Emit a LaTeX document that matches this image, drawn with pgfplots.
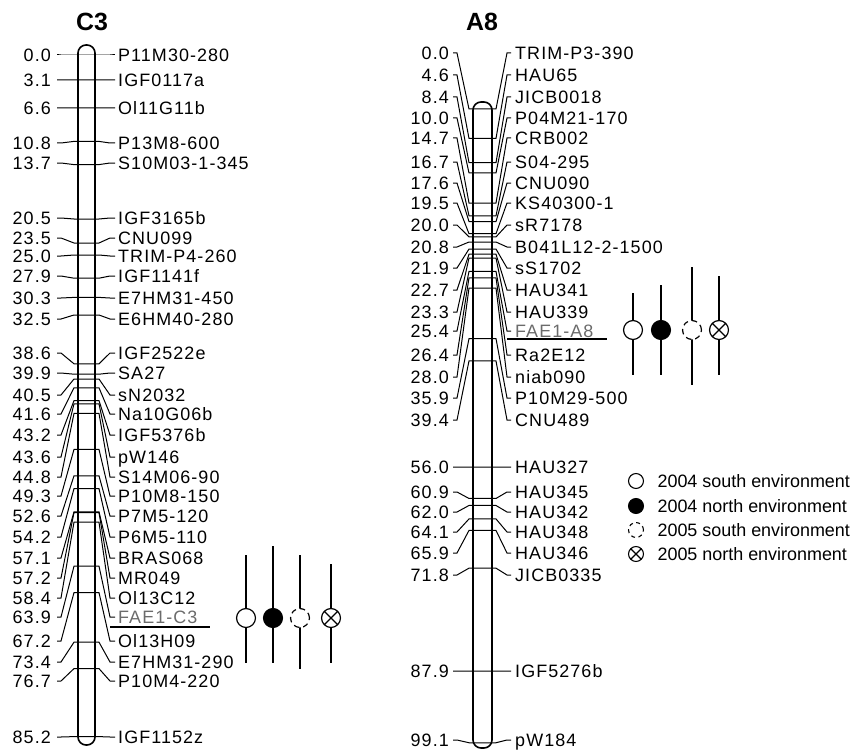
\documentclass[border=0pt]{standalone}
\usepackage{fontspec}
\setmainfont{Liberation Sans}
\newfontfamily\lblfam{Liberation Sans}[LetterSpace=6]
\usepackage{pgfplots}
\usepackage{pgfplotstable}
\pgfplotsset{compat=1.18}
\usetikzlibrary{plotmarks}
\definecolor{faegray}{gray}{0.42}
\newcommand\lblfont{\lblfam\fontsize{18}{18}\selectfont}
\newcommand\legfont{\fontsize{18}{18}\selectfont}

% C3: position (cM), label row (px from top), marker name
\pgfplotstableread{
cm ly name
0.0 55 P11M30-280
3.1 80 IGF0117a
6.6 108 Ol11G11b
10.8 143 P13M8-600
13.7 163 S10M03-1-345
20.5 218 IGF3165b
23.5 238 CNU099
25.0 256 TRIM-P4-260
27.9 276 IGF1141f
30.3 298 E7HM31-450
32.5 319 E6HM40-280
38.6 353 IGF2522e
39.9 373 SA27
40.5 395 sN2032
41.6 414 Na10G06b
43.2 435 IGF5376b
43.6 457 pW146
44.8 477 S14M06-90
49.3 496 P10M8-150
52.6 516 P7M5-120
54.2 537 P6M5-110
57.1 558 BRAS068
57.2 578 MR049
58.4 598 Ol13C12
63.9 617 FAE1-C3
67.2 641 Ol13H09
73.4 662 E7HM31-290
76.7 681 P10M4-220
85.2 737 IGF1152z
}\tabC

% A8
\pgfplotstableread{
cm ly name
0.0 53 TRIM-P3-390
4.6 75 HAU65
8.4 97 JICB0018
10.0 118 P04M21-170
14.7 138 CRB002
16.7 162 S04-295
17.6 183 CNU090
19.5 203 KS40300-1
20.0 225 sR7178
20.8 247 B041L12-2-1500
21.9 268 sS1702
22.7 290 HAU341
23.3 312 HAU339
25.4 331 FAE1-A8
26.4 355 Ra2E12
28.0 377 niab090
35.9 398 P10M29-500
39.4 420 CNU489
56.0 467 HAU327
60.9 492 HAU345
62.0 512 HAU342
64.1 532 HAU348
65.9 553 HAU346
71.8 575 JICB0335
87.9 671 IGF5276b
99.1 740 pW184
}\tabA

\pgfplotsset{
  conn/.style={black, line width=1.0bp, mark=none},
  chrom/.style={black, line width=1.6bp, mark=none},
  qtl/.style={black, line width=2.2bp, mark=none},
  num/.style={draw=none, mark=none, nodes near coords, point meta=explicit symbolic,
     every node near coord/.append style={anchor=base east, inner sep=0pt, yshift=-6.5bp, font=\lblfont}},
  nam/.style={draw=none, mark=none, nodes near coords, point meta=explicit symbolic,
     every node near coord/.append style={anchor=base west, inner sep=0pt, yshift=-6.5bp, font=\lblfont, text=#1}},
  nam/.default=black,
  sym/.style={only marks, mark size=9.5, mark options={line width=1.2bp, fill=white, draw=black, #1}},
  sym/.default={},
  lsym/.style={only marks, mark size=7.5, mark options={line width=1.1bp, fill=white, draw=black, #1}},
  lsym/.default={},
  ltxt/.style={nodes near coords={#1}, every node near coord/.append style={anchor=base west, inner sep=0pt, xshift=21bp, yshift=-6.5bp, font=\legfont}},
  ttl/.style={draw=none, mark=none, nodes near coords={#1}, every node near coord/.append style={anchor=center, inner sep=0pt, font=\bfseries\fontsize{25}{25}\selectfont}},
}

\begin{document}
\begin{tikzpicture}
\begin{axis}[x=1bp, y=1bp, y dir=reverse, xmin=0, xmax=851, ymin=0, ymax=752,
  hide axis, clip=false, scale only axis]
\coordinate (bbA) at (axis cs:0,752);
\coordinate (bbB) at (axis cs:851,0);

% ---------- C3 ----------
\pgfplotstablegetrowsof{\tabC}
\pgfmathtruncatemacro\nC{\pgfplotsretval-1}
\pgfplotsforeachungrouped \i in {0,...,\nC}{%
  \pgfplotstablegetelem{\i}{cm}\of\tabC \let\mycm\pgfplotsretval
  \pgfplotstablegetelem{\i}{ly}\of\tabC \let\myly\pgfplotsretval
  \pgfmathsetmacro\yp{55+8.0*\mycm}
  \edef\temp{\noexpand\addplot[conn] coordinates {(57,\myly)(61,\myly)(74,\yp)(99,\yp)(110,\myly)(115,\myly)};}
  \temp
}
\addplot[chrom, rounded corners=8bp] coordinates {(78,400)(78,45)(95,45)(95,745)(78,745)(78,400)};
\addplot[num] table[x expr=51, y=ly, meta=cm] {\tabC};
\addplot[nam, skip coords between index={24}{25}] table[x expr=118, y=ly, meta=name] {\tabC};
\addplot[nam=faegray, skip coords between index={0}{24}, skip coords between index={25}{40}] table[x expr=118, y=ly, meta=name] {\tabC};
\addplot[ttl=C3] coordinates {(92,22)};

% QTL on C3
\addplot[black, line width=2.5bp, mark=none] coordinates {(110,627)(210,627)};
\addplot[qtl] coordinates {(246,555)(246,663)};
\addplot[qtl] coordinates {(273,546)(273,663)};
\addplot[qtl] coordinates {(300,555)(300,669)};
\addplot[qtl] coordinates {(331,564)(331,663)};
\addplot[sym, mark=*] coordinates {(246,618)};
\addplot[sym={fill=black}, mark=*] coordinates {(273,618)};
\addplot[sym={dash pattern=on 5.5bp off 4bp}, mark=*] coordinates {(300,618)};
\addplot[sym, mark=otimes*] coordinates {(331,618)};

% ---------- A8 ----------
\pgfplotstablegetrowsof{\tabA}
\pgfmathtruncatemacro\nA{\pgfplotsretval-1}
\pgfplotsforeachungrouped \i in {0,...,\nA}{%
  \pgfplotstablegetelem{\i}{cm}\of\tabA \let\mycm\pgfplotsretval
  \pgfplotstablegetelem{\i}{ly}\of\tabA \let\myly\pgfplotsretval
  \pgfmathsetmacro\yp{109+6.395*\mycm}
  \edef\temp{\noexpand\addplot[conn] coordinates {(453,\myly)(457,\myly)(469,\yp)(496,\yp)(507,\myly)(511,\myly)};}
  \temp
}
\addplot[chrom, rounded corners=8bp] coordinates {(473,400)(473,102)(492,102)(492,748)(473,748)(473,400)};
\addplot[num] table[x expr=449, y=ly, meta=cm] {\tabA};
\addplot[nam, skip coords between index={13}{14}] table[x expr=515, y=ly, meta=name] {\tabA};
\addplot[nam=faegray, skip coords between index={0}{13}, skip coords between index={14}{40}] table[x expr=515, y=ly, meta=name] {\tabA};
\addplot[ttl=A8] coordinates {(482,22)};

% QTL on A8
\addplot[black, line width=2.5bp, mark=none] coordinates {(507,339)(607,339)};
\addplot[qtl] coordinates {(633,293)(633,375)};
\addplot[qtl] coordinates {(661,285)(661,375)};
\addplot[qtl] coordinates {(692,267)(692,385)};
\addplot[qtl] coordinates {(719,276)(719,375)};
\addplot[sym, mark=*] coordinates {(633,330)};
\addplot[sym={fill=black}, mark=*] coordinates {(661,330)};
\addplot[sym={dash pattern=on 5.5bp off 4bp}, mark=*] coordinates {(692,330)};
\addplot[sym, mark=otimes*] coordinates {(719,330)};

% ---------- legend ----------
\addplot[lsym, mark=*, ltxt={2004 south environment}] coordinates {(636,481)};
\addplot[lsym={fill=black}, mark=*, ltxt={2004 north environment}] coordinates {(636,506)};
\addplot[lsym={dash pattern=on 4bp off 3.5bp}, mark=*, ltxt={2005 south environment}] coordinates {(636,530)};
\addplot[lsym, mark=otimes*, ltxt={2005 north environment}] coordinates {(636,554)};
\end{axis}
\pgfresetboundingbox
\path (bbA) rectangle (bbB);
\end{tikzpicture}
\end{document}
